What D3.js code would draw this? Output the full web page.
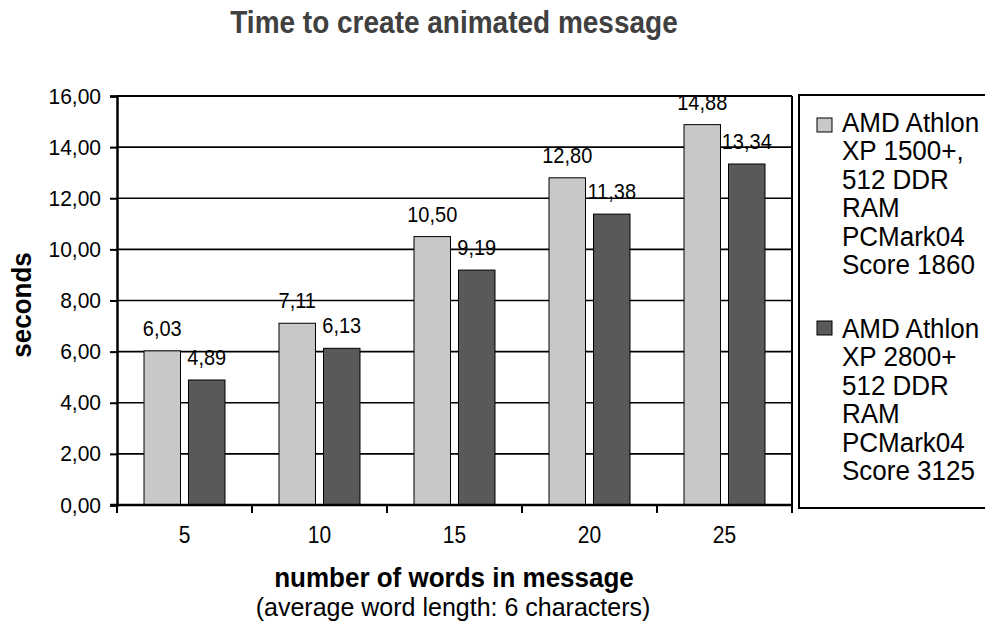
<!DOCTYPE html>
<html>
<head>
<meta charset="utf-8">
<script src="https://cdn.jsdelivr.net/npm/d3@7"></script>
<style>
html,body{margin:0;padding:0;background:#fff;}
svg{display:block;font-family:"Liberation Sans",Arial,sans-serif;}
</style>
</head>
<body>
<svg id="chart" width="985" height="630"></svg>
<script>
const categories = ["5", "10", "15", "20", "25"];
const seriesNames = ["XP1500", "XP2800"];
const seriesXP1500 = [6.03, 7.11, 10.50, 12.80, 14.88];
const seriesXP2800 = [4.89, 6.13, 9.19, 11.38, 13.34];
const yTicks = [0, 2, 4, 6, 8, 10, 12, 14, 16];
const legend1 = ["AMD Athlon", "XP 1500+,", "512 DDR", "RAM", "PCMark04", "Score 1860"];
const legend2 = ["AMD Athlon", "XP 2800+", "512 DDR", "RAM", "PCMark04", "Score 3125"];
const colors = ["#c8c8c8", "#595959"];

const svg = d3.select("#chart");
const L = 117, R = 792, T = 96, B = 505;

const x0 = d3.scaleBand().domain(categories).range([L, R]).padding(0);
const x1 = d3.scaleBand().domain(seriesNames).range([0, x0.bandwidth()])
  .paddingInner(0.18).paddingOuter(0.607);
const y = d3.scaleLinear().domain([0, 16]).range([B, T]);
const fmt = v => d3.format(".2f")(v).replace(".", ",");

function stext(parent, x, yy, sy) {
  return parent.append("text").attr("transform", `translate(${x},${yy}) scale(1,${sy})`);
}

// gridlines
svg.append("g").selectAll("line").data(yTicks.filter(d => d > 0)).join("line")
  .attr("x1", L).attr("x2", R).attr("y1", d => y(d)).attr("y2", d => y(d))
  .attr("stroke", "#000").attr("stroke-width", d => d === 16 ? 2 : 1.6);
// right border
svg.append("line").attr("x1", R).attr("x2", R).attr("y1", T).attr("y2", B)
  .attr("stroke", "#000").attr("stroke-width", 2);

// y axis
const yAxis = d3.axisLeft(y).tickValues(yTicks).tickSize(7).tickFormat(fmt).tickPadding(9);
const gy = svg.append("g").attr("transform", `translate(${L},0)`).call(yAxis);
gy.select(".domain").attr("stroke", "#000").attr("stroke-width", 2.5);
gy.selectAll(".tick line").attr("stroke", "#000").attr("stroke-width", 2);
gy.selectAll(".tick text").attr("font-size", 21).attr("fill", "#000")
  .attr("font-family", "Liberation Sans, Arial, sans-serif")
  .attr("transform", "scale(1,1.05)");

// bars
const data = categories.map((c, i) => ({c, vals: [seriesXP1500[i], seriesXP2800[i]]}));
const groups = svg.append("g").selectAll("g").data(data).join("g")
  .attr("transform", d => `translate(${x0(d.c)},0)`);
groups.selectAll("rect").data(d => d.vals.map((v, k) => ({k, v}))).join("rect")
  .attr("x", d => x1(seriesNames[d.k])).attr("width", x1.bandwidth())
  .attr("y", d => y(d.v)).attr("height", d => B - y(d.v))
  .attr("fill", d => colors[d.k]).attr("stroke", "#000").attr("stroke-width", 1);
groups.selectAll("text").data(d => d.vals.map((v, k) => ({k, v}))).join("text")
  .attr("transform", d => `translate(${x1(seriesNames[d.k]) + x1.bandwidth() / 2},${y(d.v) - 15}) scale(1,1.1)`)
  .attr("text-anchor", "middle").attr("font-size", 20).attr("fill", "#000")
  .text(d => fmt(d.v));

// x axis
const xAxis = d3.axisBottom(x0).tickSize(0).tickPadding(0);
svg.append("line").attr("x1", L - 7).attr("x2", R).attr("y1", B).attr("y2", B)
  .attr("stroke", "#000").attr("stroke-width", 2.5);
const bounds = categories.map(c => x0(c)).concat([R]);
svg.append("g").selectAll("line").data(bounds).join("line")
  .attr("x1", d => d).attr("x2", d => d).attr("y1", B).attr("y2", B + 8)
  .attr("stroke", "#000").attr("stroke-width", 2);
const gx = svg.append("g").attr("transform", `translate(0,${B})`).call(xAxis);
gx.select(".domain").remove();
gx.selectAll(".tick text").attr("font-size", 21).attr("fill", "#000")
  .attr("font-family", "Liberation Sans, Arial, sans-serif")
  .attr("dy", null).attr("y", null).attr("transform", "translate(0,38) scale(1,1.12)");

// titles
stext(svg, 454, 33, 1.15).attr("text-anchor", "middle")
  .attr("font-size", 28).attr("font-weight", "bold").attr("fill", "#404040")
  .text("Time to create animated message");
stext(svg, 454, 587, 1.05).attr("text-anchor", "middle")
  .attr("font-size", 26).attr("font-weight", "bold").attr("fill", "#000")
  .text("number of words in message");
stext(svg, 453, 616, 1.0).attr("text-anchor", "middle")
  .attr("font-size", 25).attr("fill", "#000")
  .text("(average word length: 6 characters)");
svg.append("text").attr("transform", "translate(31,305) rotate(-90) scale(1,1.08)")
  .attr("text-anchor", "middle").attr("font-size", 26).attr("font-weight", "bold")
  .attr("fill", "#000").text("seconds");

// legend
svg.append("rect").attr("x", 799).attr("y", 95).attr("width", 200).attr("height", 413)
  .attr("fill", "#fff").attr("stroke", "#000").attr("stroke-width", 2);
const legends = [{lines: legend1, y0: 132, sy: 118}, {lines: legend2, y0: 338, sy: 321}];
legends.forEach((lg, k) => {
  svg.append("rect").attr("x", 817).attr("y", lg.sy).attr("width", 15).attr("height", 14)
    .attr("fill", colors[k]).attr("stroke", "#000").attr("stroke-width", 1);
  svg.append("g").selectAll("text").data(lg.lines).join("text")
    .attr("transform", (d, i) => `translate(842,${lg.y0 + i * 28.4}) scale(1,1.06)`)
    .attr("font-size", 26).attr("fill", "#000").text(d => d);
});
</script>
</body>
</html>
